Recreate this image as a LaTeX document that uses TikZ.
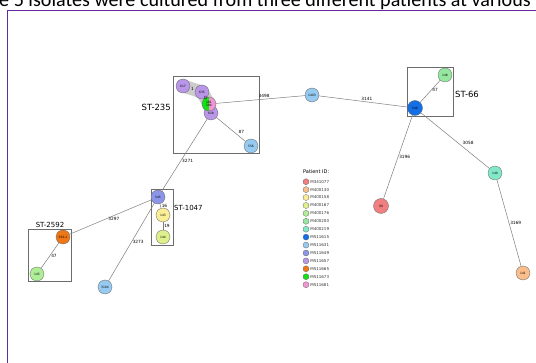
\documentclass[tikz,border=0pt]{standalone}
\usepackage{fontspec}
\setmainfont{DejaVu Sans}
\newfontfamily\capfont{Carlito}
\usetikzlibrary{positioning,backgrounds}

% patient colours
\definecolor{cA}{RGB}{240,128,128} % M341077
\definecolor{cB}{RGB}{250,190,140} % M400130
\definecolor{cC}{RGB}{250,238,150} % M400158
\definecolor{cD}{RGB}{222,240,140} % M400167
\definecolor{cE}{RGB}{175,238,150} % M400176
\definecolor{cF}{RGB}{150,232,160} % M400200
\definecolor{cG}{RGB}{130,232,200} % M400219
\definecolor{cH}{RGB}{20,110,230}  % M511615
\definecolor{cI}{RGB}{150,202,240} % M511631
\definecolor{cJ}{RGB}{140,150,232} % M511649
\definecolor{cK}{RGB}{185,150,232} % M511657
\definecolor{cL}{RGB}{240,120,20}  % M511665
\definecolor{cM}{RGB}{20,225,20}   % M511673
\definecolor{cN}{RGB}{240,150,210} % M511681
\definecolor{framecol}{RGB}{100,40,160}
\definecolor{edgecol}{RGB}{125,125,125}

\begin{document}
\begin{tikzpicture}[x=1pt, y=-1pt]
	\tikzstyle{iso} = [circle, draw=gray!80!black, line width=0.3pt, minimum size=14pt, inner sep=0pt, font=\fontsize{3}{3.3}\selectfont]
	\tikzstyle{stbox} = [draw=gray!85!black, line width=0.7pt]
	\tikzstyle{elab} = [font=\fontsize{4.3}{5}\selectfont, inner sep=1pt]
	\tikzstyle{link} = [draw=edgecol, line width=0.5pt]
	\tikzstyle{key} = [circle, draw=gray!80!black, line width=0.3pt, minimum size=6pt, inner sep=0pt]
	\tikzstyle{keytext} = [font=\fontsize{4}{4}\selectfont, inner sep=0pt, text=black!80]
	\useasboundingbox (0,0) rectangle (536,363);
	\clip (0,0) rectangle (536,363);

	% caption line cut off at the top, and the frame
	\node[anchor=base west, inner sep=0pt, font=\capfont\fontsize{20.1}{20}\selectfont] (title) at (-1,6.8) {e 5 isolates were cultured from three different patients at various};
	\draw[framecol, line width=1pt] (7,363) -- (7,10.5) -- (536,10.5);

	% sequence type boxes
	\draw[stbox] (173,76) rectangle (259,153);
	\draw[stbox] (407,67) rectangle (453,116);
	\draw[stbox] (151,189) rectangle (173,245);
	\draw[stbox] (28,229) rectangle (71,281);
	\node[anchor=east, inner sep=1pt, font=\fontsize{8.5}{8.5}\selectfont] (ST235) at (172,107) {ST-235};
	\node[anchor=west, inner sep=1pt, font=\fontsize{8.5}{8.5}\selectfont] (ST66) at (454,94) {ST-66};
	\node[anchor=west, inner sep=1pt, font=\fontsize{7}{7}\selectfont] (ST1047) at (173,208) {ST-1047};
	\node[anchor=south, inner sep=1pt, font=\fontsize{7}{7}\selectfont] (ST2592) at (50,229) {ST-2592};

	% isolates
	\node[iso, fill=cK] (n617) at (183,86) {617};
	\node[iso, fill=cK] (n635) at (202,92) {635};
	\node[iso, fill=cK] (n618) at (211,113) {618};
	\node[iso, fill=cN, align=center, path picture={\fill[cM] (path picture bounding box.south west) rectangle (path picture bounding box.north);}] (n181) at (209,104) {181\\184};
	\node[iso, fill=cI] (n556) at (251,146) {556};
	\node[iso, fill=cI] (n1403) at (312,95) {1403};
	\node[iso, fill=cH, minimum size=15pt] (n546) at (415,108) {546};
	\node[iso, fill=cF] (n148) at (445,75) {148};
	\node[iso, fill=cA, minimum size=15pt] (n99) at (381,206) {99};
	\node[iso, fill=cG] (n149) at (495,173) {149};
	\node[iso, fill=cB] (n141) at (523,273) {141};
	\node[iso, fill=cJ] (n545) at (158,197) {545};
	\node[iso, fill=cC] (n143) at (163,215) {143};
	\node[iso, fill=cD] (n144) at (163,237) {144};
	\node[iso, fill=cL] (n563) at (63,237) {563-2};
	\node[iso, fill=cE] (n145) at (37,274) {145};
	\node[iso, fill=cI] (n3104) at (105,287) {3104};

	% grey band behind the close ST-235 isolates
	\begin{scope}[on background layer]
		\draw[gray!40, line width=13pt, line cap=round, line join=round] (n617.center) -- (n635.center) -- (n181.center);
	\end{scope}
	\path (n617) -- node[elab, pos=0.5] (e1) {1} (n635);
	\path (n635) -- node[elab, pos=0.4] (e0) {0} (n181);

	% links with allele distances
	\draw[link] (n181) -- node[elab, pos=0.54, above] (e3498) {3498} (n1403);
	\draw[link] (n618) -- node[elab, pos=0.72, above right] (e87) {87} (n556);
	\draw[link] (n618) -- node[elab, pos=0.58, right] (e3271) {3271} (n545);
	\draw[link] (n1403) -- node[elab, pos=0.54, above] (e3141) {3141} (n546);
	\draw[link] (n546) -- node[elab, pos=0.55, right] (e47a) {47} (n148);
	\draw[link] (n546) -- node[elab, pos=0.5, right] (e3196) {3196} (n99);
	\draw[link] (n546) -- node[elab, pos=0.59, above right] (e3058) {3058} (n149);
	\draw[link] (n149) -- node[elab, pos=0.5, right] (e3169) {3169} (n141);
	\draw[link] (n545) -- node[elab, pos=0.5, right] (e16) {16} (n143);
	\draw[link] (n143) -- node[elab, pos=0.5, right] (e19) {19} (n144);
	\draw[link] (n545) -- node[elab, pos=0.46, below] (e3297) {3297} (n563);
	\draw[link] (n545) -- node[elab, pos=0.5, right] (e3273) {3273} (n3104);
	\draw[link] (n563) -- node[elab, pos=0.5, right] (e47b) {47} (n145);

	% legend
	\node[anchor=west, inner sep=0pt, font=\fontsize{5}{5}\selectfont] (pid) at (303,172) {Patient ID:};
	\node[key, fill=cA] (k1) at (306,181.7) {};  \node[keytext, right=1pt of k1] (t1) {M341077};
	\node[key, fill=cB] (k2) at (306,189.6) {};  \node[keytext, right=1pt of k2] (t2) {M400130};
	\node[key, fill=cC] (k3) at (306,197.5) {};  \node[keytext, right=1pt of k3] (t3) {M400158};
	\node[key, fill=cD] (k4) at (306,205.5) {};  \node[keytext, right=1pt of k4] (t4) {M400167};
	\node[key, fill=cE] (k5) at (306,213.4) {};  \node[keytext, right=1pt of k5] (t5) {M400176};
	\node[key, fill=cF] (k6) at (306,221.3) {};  \node[keytext, right=1pt of k6] (t6) {M400200};
	\node[key, fill=cG] (k7) at (306,229.2) {};  \node[keytext, right=1pt of k7] (t7) {M400219};
	\node[key, fill=cH] (k8) at (306,237.1) {};  \node[keytext, right=1pt of k8] (t8) {M511615};
	\node[key, fill=cI] (k9) at (306,245.1) {};  \node[keytext, right=1pt of k9] (t9) {M511631};
	\node[key, fill=cJ] (k10) at (306,253.0) {}; \node[keytext, right=1pt of k10] (t10) {M511649};
	\node[key, fill=cK] (k11) at (306,260.9) {}; \node[keytext, right=1pt of k11] (t11) {M511657};
	\node[key, fill=cL] (k12) at (306,268.8) {}; \node[keytext, right=1pt of k12] (t12) {M511665};
	\node[key, fill=cM] (k13) at (306,276.7) {}; \node[keytext, right=1pt of k13] (t13) {M511673};
	\node[key, fill=cN] (k14) at (306,284.7) {}; \node[keytext, right=1pt of k14] (t14) {M511681};
\end{tikzpicture}
\end{document}
